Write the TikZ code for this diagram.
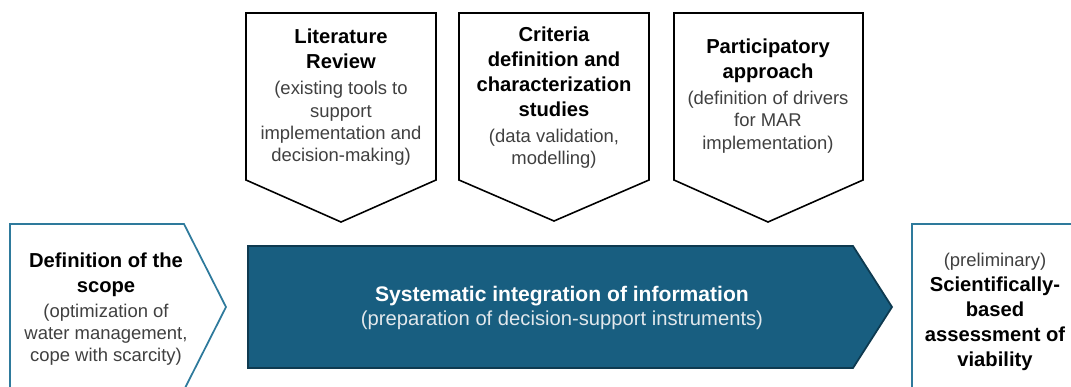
\documentclass[tikz,border=0pt]{standalone}
\usepackage{fontspec}
\setmainfont{Liberation Sans}
\usepackage{xcolor}
\usetikzlibrary{positioning}

\definecolor{arrowTeal}{RGB}{24,94,128}
\definecolor{arrowEdge}{RGB}{14,58,80}
\definecolor{frameTeal}{RGB}{46,122,156}
\definecolor{subGray}{RGB}{64,64,64}
\definecolor{subWhite}{RGB}{226,232,236}

\newcommand{\headline}[1]{{\fontsize{11.5}{14}\selectfont\bfseries #1}}
\newcommand{\subline}[1]{{\fontsize{10.5}{12.5}\selectfont\color{subGray}#1}}

\tikzset{
	topChevron/.style={draw=black, line width=0.9pt, fill=white, line join=miter},
	sideFrame/.style={draw=frameTeal, line width=1pt, fill=white},
	mainArrow/.style={draw=arrowEdge, line width=1pt, fill=arrowTeal},
	boxText/.style={align=center, inner sep=0pt, font=\fontsize{10.5}{12.7}\selectfont}
}

\begin{document}
\begin{tikzpicture}[x=0.02cm, y=-0.02cm]
\useasboundingbox (0,0) rectangle (1071,386);
\clip (0,0) rectangle (1071,386);

% --- top chevrons
\draw[topChevron] (246,13) -- (436,13) -- (436,180) -- (341,222) -- (246,180) -- cycle;
\draw[topChevron] (459,13) -- (649,13) -- (649,180) -- (554,221) -- (459,180) -- cycle;
\draw[topChevron] (674,13) -- (863,13) -- (863,180) -- (768,222) -- (674,180) -- cycle;

\node[boxText] (litReview) at (341,97) {%
	\headline{Literature}\\[1.5pt]
	\headline{Review}\\[2.5pt]
	\subline{(existing tools to}\\
	\subline{support}\\
	\subline{implementation and}\\
	\subline{decision-making)}};

\node[boxText] (criteria) at (554,98) {%
	\headline{Criteria}\\[1.5pt]
	\headline{definition and}\\[1.5pt]
	\headline{characterization}\\[1.5pt]
	\headline{studies}\\[2pt]
	\subline{(data validation,}\\
	\subline{modelling)}};

\node[boxText] (participatory) at (768,96) {%
	\headline{Participatory}\\[1.5pt]
	\headline{approach}\\[2pt]
	\subline{(definition of drivers}\\
	\subline{for MAR}\\
	\subline{implementation)}};

% --- scope and result frames
\draw[sideFrame] (10,224) -- (184,224) -- (226,307) -- (184,390) -- (10,390) -- cycle;
\draw[sideFrame] (912,224) -- (1085,224) -- (1085,400) -- (912,400) -- cycle;

\node[boxText] (scope) at (106,309) {%
	\headline{Definition of the}\\[1.5pt]
	\headline{scope}\\[1.5pt]
	\subline{(optimization of}\\
	\subline{water management,}\\
	\subline{cope with scarcity)}};

\node[boxText] (viability) at (995,312) {%
	\subline{(preliminary)}\\[1.5pt]
	\headline{Scientifically-}\\[1.5pt]
	\headline{based}\\[1.5pt]
	\headline{assessment of}\\[1.5pt]
	\headline{viability}};

% --- main arrow
\draw[mainArrow] (248,246) -- (853,246) -- (892,307) -- (853,368) -- (248,368) -- cycle;

\node[boxText, text=white] (integration) at (562,308) {%
	{\fontsize{12}{16}\selectfont\bfseries Systematic integration of information}\\[1pt]
	{\fontsize{11.5}{14}\selectfont\color{subWhite}(preparation of decision-support instruments)}};

\end{tikzpicture}
\end{document}
